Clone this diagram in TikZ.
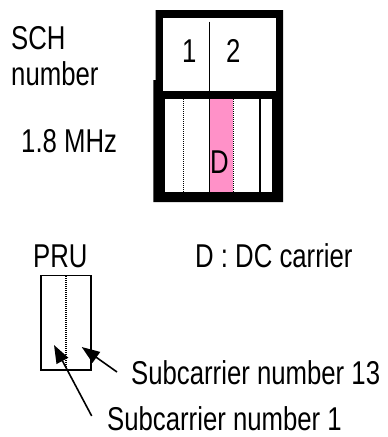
\documentclass[tikz,border=0pt]{standalone}
\usepackage{fontspec}
\setmainfont[FakeStretch=0.78]{Liberation Sans}
\usetikzlibrary{arrows.meta}
\definecolor{dcpink}{RGB}{255,145,200}
\begin{document}
\begin{tikzpicture}[x=1pt,y=-1pt,
  lbl/.style={inner sep=0pt,anchor=base west,font=\fontsize{33}{38}\selectfont},
  dotline/.style={line width=1.3pt,dash pattern=on 1pt off 1pt},
  thin/.style={line width=1.2pt},
  arr/.style={line width=1.6pt,-{Triangle[length=18pt,width=13pt]}}]
\useasboundingbox (0,0) rectangle (388,437);
% SCH frame
\fill[black] (155.7,10) -- (283,10) -- (283,202) -- (153.3,202) -- (153.3,80) -- (155.7,80) -- cycle;
\fill[white] (163.3,18.3) rectangle (276,91);
\fill[white] (165,99) rectangle (271.7,192);
\fill[dcpink] (209,99) rectangle (232.5,192);
\draw[thin] (209.3,21.7) -- (209.3,91);
\draw[thin] (209.3,99) -- (209.3,192);
\draw[thin] (260,99) -- (260,192);
\draw[dotline] (183.3,99) -- (183.3,192);
\draw[dotline] (233.3,99) -- (233.3,192);
% labels
\node[lbl] (sch) at (11,49) {SCH};
\node[lbl] (num) at (11,85) {number};
\node[lbl] (mhz) at (21,152) {1.8 MHz};
\node[lbl] (one) at (182,62) {1};
\node[lbl] (two) at (226,62) {2};
\node[lbl] (d) at (210,173) {D};
\node[lbl] (pru) at (33,267) {PRU};
\node[lbl] (dc) at (195,267) {D : DC carrier};
\node[lbl] (s13) at (131,384) {Subcarrier number 13};
\node[lbl,text depth=0pt] (s1) at (107,430) {Subcarrier number 1};
% PRU box
\draw[line width=1.5pt] (41,275.7) rectangle (91,370);
\draw[dotline] (66,276) -- (66,367);
% arrows
\coordinate (t1) at (91.7,416);
\coordinate (h1) at (54,345);
\coordinate (t13) at (117,372);
\coordinate (h13) at (81.7,347);
\draw[arr] (t1) -- (h1);
\draw[arr] (t13) -- (h13);
\end{tikzpicture}
\end{document}
